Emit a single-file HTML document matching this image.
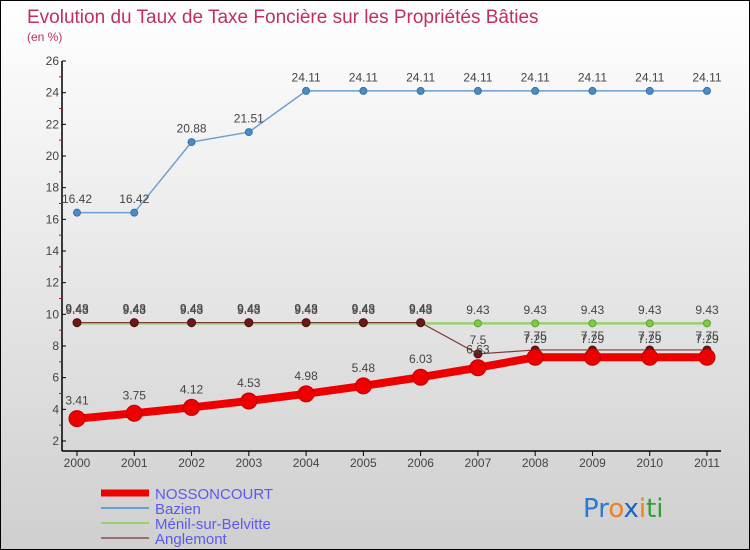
<!DOCTYPE html>
<html><head><meta charset="utf-8"><style>
body{margin:0}
#c{width:750px;height:550px;position:relative;overflow:hidden;font-family:"Liberation Sans",sans-serif;background:linear-gradient(#ffffff,#cfcfcf);border:1px solid #000;box-sizing:border-box}
</style></head><body>
<div id="c">
<svg id="s" width="750" height="550"></svg>
</div>
<script>
const years=["2000","2001","2002","2003","2004","2005","2006","2007","2008","2009","2010","2011"];
const nosson=[3.41,3.75,4.12,4.53,4.98,5.48,6.03,6.63,7.29,7.29,7.29,7.29];
const bazien=[16.42,16.42,20.88,21.51,24.11,24.11,24.11,24.11,24.11,24.11,24.11,24.11];
const menil=[9.43,9.43,9.43,9.43,9.43,9.43,9.43,9.43,9.43,9.43,9.43,9.43];
const angle=[9.48,9.48,9.48,9.48,9.48,9.48,9.48,7.5,7.75,7.75,7.75,7.75];
const yTicks=[2,4,6,8,10,12,14,16,18,20,22,24,26];
const NS="http://www.w3.org/2000/svg",s=document.getElementById('s');
const X=i=>76+i*(706-76)/11, Y=v=>440-(v-2)*(380/24);
function el(t,a,p){const e=document.createElementNS(NS,t);for(const k in a)e.setAttribute(k,a[k]);(p||s).appendChild(e);return e;}
function tx(x,y,str,a){const e=el('text',Object.assign({x:x,y:y,'font-size':12,fill:'#444'},a));e.textContent=str;return e;}
let t=tx(26,22,"Evolution du Taux de Taxe Foncière sur les Propriétés Bâties",{'font-size':19,fill:'#c0305a'});

t=tx(26,40,"(en %)",{'font-size':12,fill:'#c0305a'});

let ax=el('line',{x1:61,y1:60,x2:61,y2:450,stroke:'#000','stroke-width':1.5});

ax=el('line',{x1:61,y1:450,x2:720,y2:450,stroke:'#000','stroke-width':1.5});

yTicks.forEach(v=>{el('line',{x1:61,y1:Y(v),x2:65,y2:Y(v),stroke:'#000'});
 if(v<26)el('line',{x1:58,y1:Y(v+1),x2:61,y2:Y(v+1),stroke:'#e00'});
 const l=tx(58,Y(v)+4,v,{'text-anchor':'end'});});
years.forEach((y,i)=>{el('line',{x1:X(i),y1:450,x2:X(i),y2:455,stroke:'#000'});
 const l=tx(X(i),466,y,{'text-anchor':'middle'});});
function series(d,name,col,w,r,dot,stroke){
 const g=el('g',{});
 el('polyline',{points:d.map((v,i)=>X(i)+','+Y(v)).join(' '),fill:'none',stroke:col,'stroke-width':w},g);
 d.forEach((v,i)=>{const c=el('circle',{cx:X(i),cy:Y(v),r:r,fill:dot,stroke:stroke,'stroke-width':1},g);
  
  tx(X(i),Y(v)-r-6,String(v),{'text-anchor':'middle',fill:'#444'},g);});
}
series(bazien,'bazien-series','#6aa0d0',1.5,3.5,'#4a8cc8','#3a70a0');
series(menil,'menil-series','#9ad070',2.5,3.5,'#78d040','#60a030');
series(angle,'anglemont-series','#7a3a3a',1.2,4,'#6a1818','#501010');
series(nosson,'nossoncourt-series','#ee0000',8,8,'#ee0000','#c00000');
const leg=[["NOSSONCOURT","#ee0000",7],["Bazien","#6aa0d0",2],["Ménil-sur-Belvitte","#9ad070",2],["Anglemont","#9a7070",2]];
leg.forEach((L,i)=>{const g=el('g',{});
 const y=492+i*15;el('line',{x1:100,y1:y,x2:148,y2:y,stroke:L[1],'stroke-width':L[2]},g);
 tx(154,y+6,L[0],{'font-size':15,fill:'#5a5af0'},g);});
const lg=el('text',{x:582,y:516,'font-size':26,'font-family':'"DejaVu Sans",sans-serif'});

[["Pr","#2a7ad0"],["o","#f08020"],["x","#1a60c0"],["i","#f08020"],["ti","#30a030"]].forEach(p=>{const ts=el('tspan',{fill:p[1]},lg);ts.textContent=p[0];});
</script>
</body></html>
